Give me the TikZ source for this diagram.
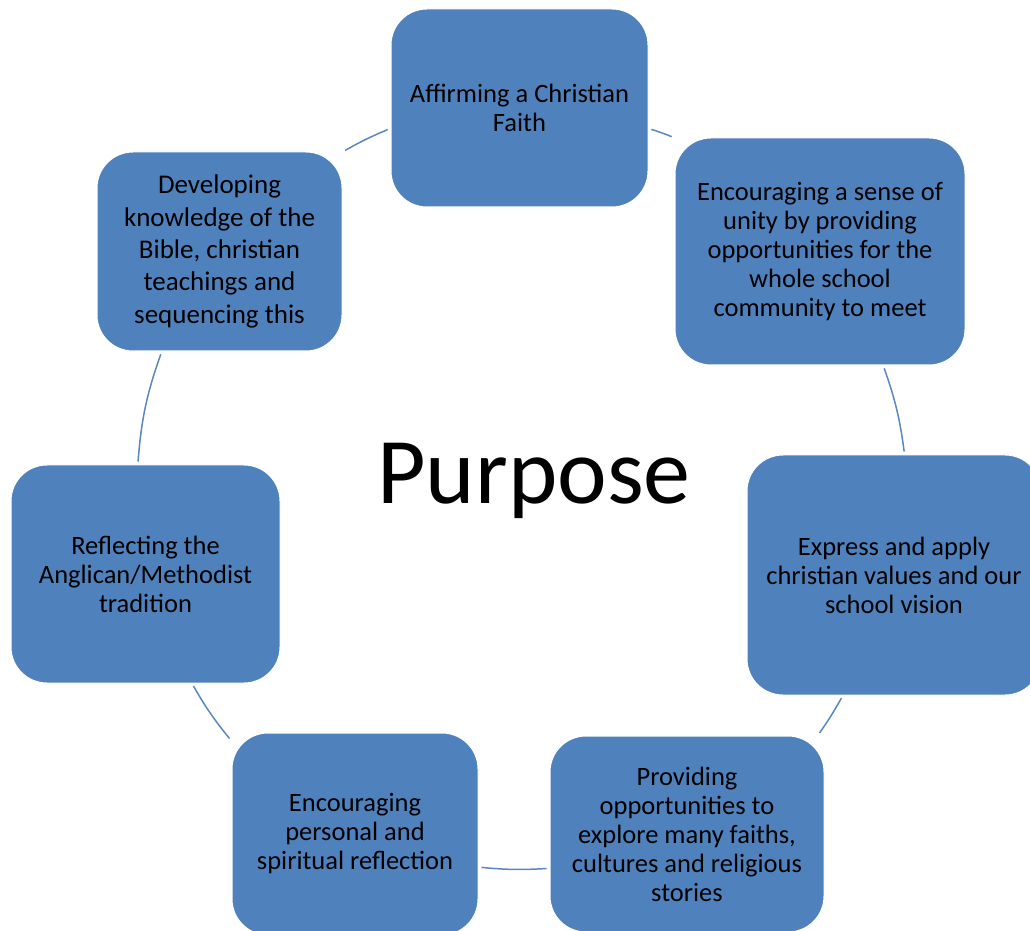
\documentclass[tikz,border=0pt]{standalone}
\usepackage{fontspec}
\setmainfont{Carlito}
\usepackage{xcolor}
\usepackage{tikz}
\definecolor{boxblue}{HTML}{4F81BD}
\definecolor{ringblue}{HTML}{5B87C0}

\begin{document}
\begin{tikzpicture}[
  x=1pt, y=1pt,
  % Styles
  petal/.style={draw=white, line width=1pt, fill=boxblue, rounded corners=36pt,
                align=center, text=black, inner sep=4pt,
                font=\fontsize{26.5}{29}\selectfont},
  ring/.style={ringblue, line width=1.5pt, shorten <=3pt, shorten >=3pt},
  hub/.style={font=\fontsize{94}{100}\selectfont, anchor=base}
]
\clip (0,0) rectangle (1030,930);

% --- Centre ---
\node[hub] (purpose) at (534,427) {Purpose};

% --- Cycle boxes (clockwise from top) ---
\node[petal, minimum width=257pt, minimum height=198pt] (affirm) at (519.5,822)
  {Affirming a Christian\\Faith};
\node[petal, minimum width=290pt, minimum height=227pt] (unity) at (820,678.5)
  {Encouraging a sense of\\unity by providing\\opportunities for the\\whole school\\community to meet};
\node[petal, minimum width=294pt, minimum height=240pt] (values) at (894,355)
  {Express and apply\\christian values and our\\school vision};
\node[petal, minimum width=274pt, minimum height=196pt] (explore) at (687,96)
  {Providing\\opportunities to\\explore many faiths,\\cultures and religious\\stories};
\node[petal, minimum width=246pt, minimum height=202pt] (reflect) at (355,96)
  {Encouraging\\personal and\\spiritual reflection};
\node[petal, minimum width=269pt, minimum height=218pt] (anglican) at (145.5,356)
  {Reflecting the\\Anglican/Methodist\\tradition};
\node[petal, minimum width=245pt, minimum height=199pt,
      font=\fontsize{27}{32.3}\selectfont] (bible) at (219.5,678.5)
  {Developing\\knowledge of the\\Bible, christian\\teachings and\\sequencing this};

% --- Ring arcs ---
\draw[ring] (affirm.-9.5) to[bend left=2] (unity.142.5);
\draw[ring] (unity.-61.3) to[bend left=6] (values.85.9);
\draw[ring] (values.-113.4) to[bend left=3] (explore.37.6);
\draw[ring] (explore.194.3) to[bend left=4.6] (reflect.-15.6);
\draw[ring] (reflect.143.7) to[bend left=4.7] (anglican.-67.8);
\draw[ring] (anglican.94.2) to[bend left=7.6] (bible.-120);
\draw[ring] (bible.39.3) to[bend left=3.4] (affirm.189.4);

\end{tikzpicture}
\end{document}
